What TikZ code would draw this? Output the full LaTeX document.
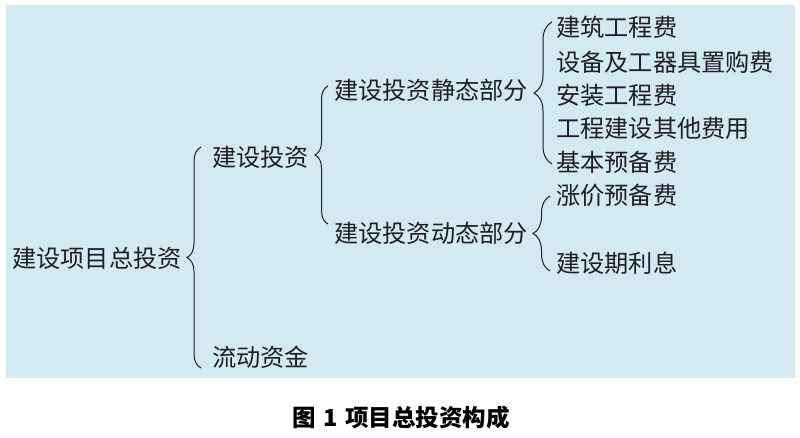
\documentclass[tikz,border=0pt]{standalone}
\usepackage{fontspec}
\newfontfamily\cjk{Noto Sans CJK SC}
\usetikzlibrary{decorations.pathreplacing}
\definecolor{bg}{RGB}{211,234,243}
\definecolor{ink}{RGB}{30,30,35}
\begin{document}
\begin{tikzpicture}[x=1pt,y=-1pt,
  lbl/.style={anchor=west,inner sep=0pt,font=\cjk\fontsize{24.2}{25}\selectfont,text=ink},
  brc/.style={draw=ink,line width=1pt,decorate,decoration={brace,amplitude=#1}},
  captext/.style={inner sep=0pt,font=\cjk\bfseries\fontsize{23.5}{25}\selectfont,text=black}]
\useasboundingbox (0,0) rectangle (800,438);
\fill[bg] (6,5) rectangle (795,378);
% level 0
\node[lbl] (n0) at (12,258) {建设项目总投资};
% level 1
\node[lbl] (n1) at (212,157) {建设投资};
\node[lbl] (n2) at (212,357) {流动资金};
% level 2
\node[lbl] (n3) at (334,90) {建设投资静态部分};
\node[lbl] (n4) at (334,233) {建设投资动态部分};
% level 3
\node[lbl] (s1) at (556,27) {建筑工程费};
\node[lbl] (s2) at (556,62) {设备及工器具置购费};
\node[lbl] (s3) at (556,95) {安装工程费};
\node[lbl] (s4) at (556,128) {工程建设其他费用};
\node[lbl] (s5) at (556,162) {基本预备费};
\node[lbl] (d1) at (556,195) {涨价预备费};
\node[lbl] (d2) at (556,263) {建设期利息};
% brace end points
\coordinate (b1t) at (201,147);
\coordinate (b1b) at (201,368);
\coordinate (b2t) at (328,86);
\coordinate (b2b) at (328,224);
\coordinate (b3t) at (552,22);
\coordinate (b3b) at (552,164);
\coordinate (b4t) at (550,196);
\coordinate (b4b) at (550,271);
\draw[brc=14pt] (b1b) -- (b1t);
\draw[brc=13pt] (b2b) -- (b2t);
\draw[brc=18pt] (b3b) -- (b3t);
\draw[brc=17pt] (b4b) -- (b4t);
% caption
\node[captext] (caption) at (401,418) {图\hspace{0.35em}1\hspace{0.3em}项目总投资构成};
\end{tikzpicture}
\end{document}
